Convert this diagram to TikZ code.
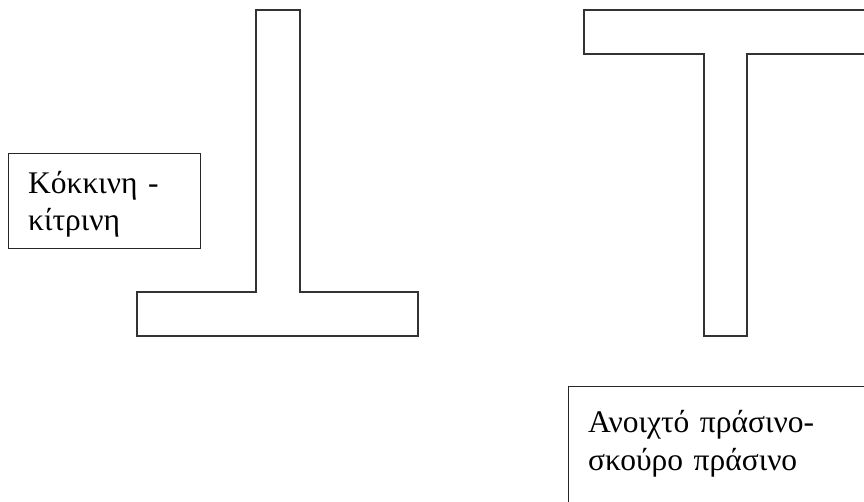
\documentclass[tikz,border=0pt]{standalone}
\usepackage{fontspec}
\setmainfont{Liberation Serif}
\begin{document}
\begin{tikzpicture}[x=1pt,y=-1pt,
  shape line/.style={draw=black!80,line width=1.2pt,line join=miter},
  labelbox/.style={draw=black!85,line width=1.2pt,rectangle,inner sep=0pt,anchor=north west},
  labeltext/.style={anchor=base west,inner sep=0pt,text width=300pt,align=left,
    font=\fontsize{31.5}{37.5}\selectfont}]
\useasboundingbox (0,0) rectangle (864,502);
\clip (0,0) rectangle (864,502);
% left inverted T
\draw[shape line] (256,10) -- (300,10) -- (300,292) -- (418,292) -- (418,336)
  -- (137,336) -- (137,292) -- (256,292) -- cycle;
% right T
\draw[shape line] (584,10) -- (880,10) -- (880,54) -- (747,54) -- (747,336)
  -- (704,336) -- (704,54) -- (584,54) -- cycle;
% label boxes
\node[labelbox,minimum width=192pt,minimum height=95pt] (box1) at (8,153) {};
\node[labeltext] (text1) at (28,193.3) {Κόκκινη -\\κίτρινη};
\node[labelbox,minimum width=320pt,minimum height=140pt] (box2) at (568,386) {};
\node[labeltext] (text2) at (588,432.7) {Ανοιχτό πράσινο-\\σκούρο πράσινο};
\end{tikzpicture}
\end{document}
